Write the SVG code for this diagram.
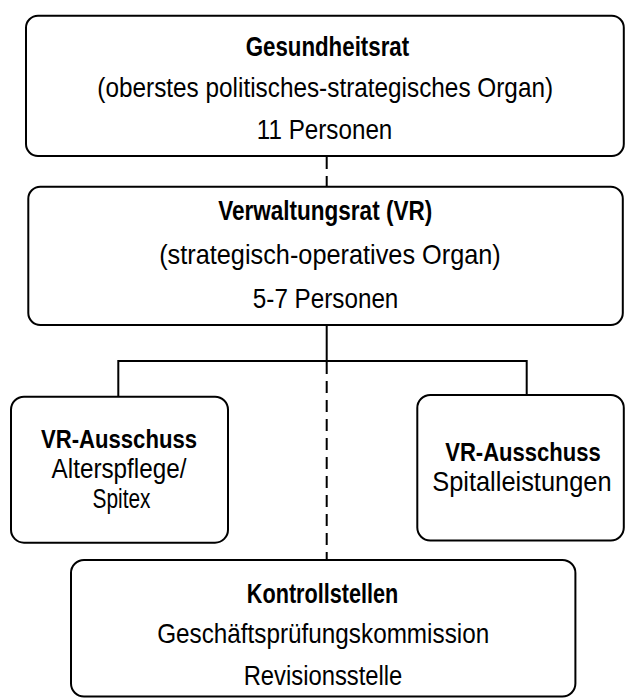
<svg xmlns="http://www.w3.org/2000/svg" width="625" height="698" viewBox="0 0 625 698">
  <style>
    .box { fill: #ffffff; stroke: #000000; stroke-width: 2; }
    .t { font-family: "Liberation Sans Narrow", "Liberation Sans", Arial, sans-serif; font-size: 27.5px; fill: #000000; text-anchor: middle; }
    .b { font-weight: bold; }
    .s { font-size: 26px; }
    .line { fill: none; stroke: #000000; stroke-width: 2; }
    .dash { fill: none; stroke: #000000; stroke-width: 2; stroke-dasharray: 12 7; }
  </style>
  <rect width="625" height="698" fill="#ffffff"/>
  <g id="connectors">
    <line class="dash" x1="326.7" y1="157" x2="326.7" y2="186"/>
    <line class="line" x1="326.7" y1="325" x2="326.7" y2="361"/>
    <polyline class="line" points="118.3,396.7 118.3,361 526.7,361 526.7,395"/>
    <line class="dash" x1="326.7" y1="362" x2="326.7" y2="560"/>
  </g>
  <g id="gesundheitsrat">
    <rect class="box" x="26" y="15.7" width="597.8" height="140.3" rx="12"/>
    <text class="t b" x="327.4" y="56" textLength="163.5" lengthAdjust="spacingAndGlyphs">Gesundheitsrat</text>
    <text class="t" x="325.2" y="97" textLength="455.7" lengthAdjust="spacingAndGlyphs">(oberstes politisches-strategisches Organ)</text>
    <text class="t" x="324.6" y="139" textLength="135.5" lengthAdjust="spacingAndGlyphs">11 Personen</text>
  </g>
  <g id="verwaltungsrat">
    <rect class="box" x="28.3" y="186.7" width="594.5" height="138.3" rx="12"/>
    <text class="t b" x="325.2" y="220" textLength="214" lengthAdjust="spacingAndGlyphs">Verwaltungsrat (VR)</text>
    <text class="t" x="330" y="264" textLength="341.6" lengthAdjust="spacingAndGlyphs">(strategisch-operatives Organ)</text>
    <text class="t" x="325.6" y="308" textLength="145.5" lengthAdjust="spacingAndGlyphs">5-7 Personen</text>
  </g>
  <g id="ausschuss-alterspflege">
    <rect class="box" x="11" y="396.7" width="217" height="146" rx="13"/>
    <text class="t s b" x="119" y="448" textLength="156" lengthAdjust="spacingAndGlyphs">VR-Ausschuss</text>
    <text class="t" x="119" y="478" textLength="134.8" lengthAdjust="spacingAndGlyphs">Alterspflege/</text>
    <text class="t" x="121.5" y="508" textLength="58" lengthAdjust="spacingAndGlyphs">Spitex</text>
  </g>
  <g id="ausschuss-spital">
    <rect class="box" x="417.3" y="395" width="206.5" height="145.5" rx="13"/>
    <text class="t s b" x="523" y="461" textLength="155.5" lengthAdjust="spacingAndGlyphs">VR-Ausschuss</text>
    <text class="t" x="521.9" y="491" textLength="179.4" lengthAdjust="spacingAndGlyphs">Spitalleistungen</text>
  </g>
  <g id="kontrollstellen">
    <rect class="box" x="71" y="560" width="504.4" height="136.5" rx="13"/>
    <text class="t b" x="322.6" y="603" textLength="151.5" lengthAdjust="spacingAndGlyphs">Kontrollstellen</text>
    <text class="t" x="323.2" y="643" textLength="332" lengthAdjust="spacingAndGlyphs">Geschäftsprüfungskommission</text>
    <text class="t" x="323" y="685" textLength="158.7" lengthAdjust="spacingAndGlyphs">Revisionsstelle</text>
  </g>
</svg>
